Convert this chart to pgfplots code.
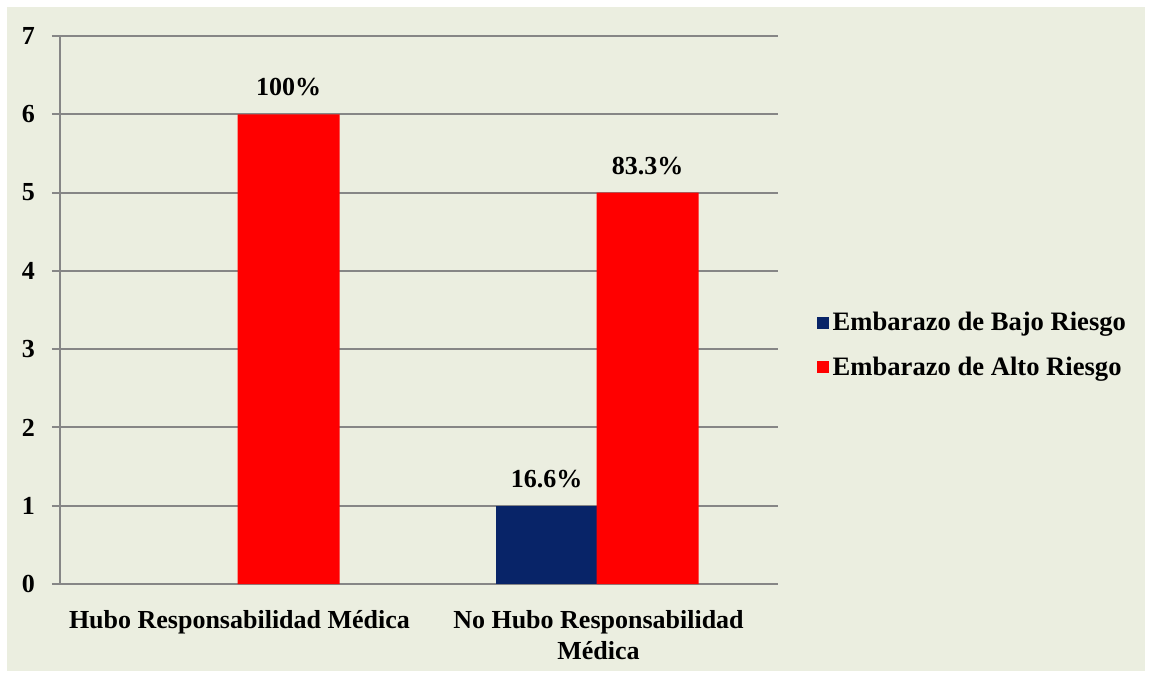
\documentclass[border=0pt]{standalone}
\usepackage{pgfplots}
\pgfplotsset{compat=1.18}
\usepackage{fontspec}
\setmainfont{Liberation Serif}
\definecolor{bgc}{HTML}{EBEEE0}
\definecolor{gridc}{HTML}{868686}
\definecolor{bajo}{HTML}{082468}
\definecolor{alto}{HTML}{FF0000}
\begin{document}
\begin{tikzpicture}
\useasboundingbox (0,0) rectangle (576pt,338.5pt);
\fill[white] (0,0) rectangle (576pt,338.5pt);
\fill[bgc] (3.5pt,3pt) rectangle (572.5pt,335pt);
\begin{axis}[
  at={(30pt,46.5pt)}, anchor=south west,
  width=359pt, height=274pt, scale only axis,
  font=\fontsize{13}{15.6}\selectfont\bfseries,
  ybar, bar width=51pt,
  xmin=-0.5, xmax=1.5, ymin=0, ymax=7,
  ytick={0,1,...,7},
  xtick={0,1},
  xticklabels={Hubo Responsabilidad Médica,{No Hubo Responsabilidad\\Médica}},
  xticklabel style={align=center, yshift=-5.5pt},
  extra x ticks={-0.5,0.5,1.5},
  extra x tick labels={},
  extra x tick style={major tick length=4pt, tick style={gridc, line width=1pt}, grid=none,
     tick align=outside},
  major x tick style={draw=none},
  ymajorgrids, grid style={gridc, line width=1pt},
  axis line style={gridc, line width=1pt},
  axis x line*=bottom, axis y line*=left,
  y tick style={gridc, line width=1pt},
  tick align=outside, major tick length=4pt,
  yticklabel style={xshift=-5pt},
  /pgf/number format/assume math mode=true,
  nodes near coords,
  point meta=explicit symbolic,
  every node near coord/.append style={font=\fontsize{13}{15.6}\selectfont\bfseries, yshift=5.5pt},
  legend style={at={(1.045,0.436)}, anchor=west, draw=none, fill=none,
     font=\fontsize{13.3}{16}\selectfont\bfseries, row sep=7.5pt},
  legend cell align=left,
  legend image code/.code={\fill[#1] (0pt,-3pt) rectangle (6pt,3pt);},
  clip=false,
]
\addplot[fill=bajo, draw=none, bar shift=-26pt] coordinates {(1,1) [16.6\%]};
\addplot[fill=alto, draw=none, bar shift=24.5pt] coordinates {(0,6) [100\%] (1,5) [83.3\%]};
\legend{Embarazo de Bajo Riesgo, Embarazo de Alto Riesgo}
\end{axis}
\end{tikzpicture}
\end{document}
